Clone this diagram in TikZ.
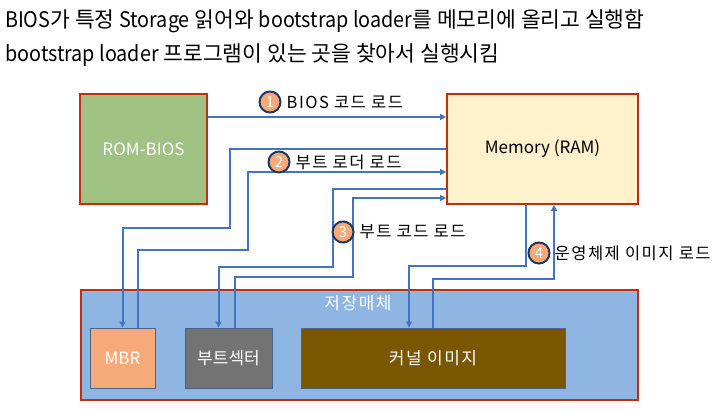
\documentclass[tikz,border=0pt]{standalone}
\usepackage{fontspec}
\setmainfont{Noto Sans CJK KR}
\newfontfamily\widefont[LetterSpace=9]{Noto Sans CJK KR}
\usetikzlibrary{positioning,arrows.meta}

\definecolor{boxred}{RGB}{196,46,14}
\definecolor{romgreen}{RGB}{160,194,130}
\definecolor{ramyellow}{RGB}{255,241,204}
\definecolor{diskblue}{RGB}{143,181,226}
\definecolor{mbrorange}{RGB}{246,170,122}
\definecolor{bootgray}{RGB}{115,115,115}
\definecolor{kernbrown}{RGB}{122,86,0}
\definecolor{flowblue}{RGB}{68,114,196}
\definecolor{badgenavy}{RGB}{32,56,100}
\definecolor{partedge}{RGB}{70,100,140}

% narrower latin words in the title
\newcommand{\latw}[1]{\scalebox{0.92}[1]{#1}}

\begin{document}
\begin{tikzpicture}[x=1pt, y=-1pt,
    font=\fontsize{16.5}{19}\selectfont,
    unit/.style={draw=boxred, line width=1.8pt, minimum height=110pt, align=center,
                 font=\fontsize{17}{20}\selectfont},
    part/.style={draw=partedge, line width=0.8pt, minimum height=60pt,
                 text=white, font=\fontsize{17}{20}\selectfont},
    load/.style={-{Triangle[length=6pt,width=6pt]}, draw=flowblue, line width=2pt},
    badge/.style={circle, draw=badgenavy, line width=2pt, fill=mbrorange,
                  minimum size=21pt, inner sep=0pt, text=white,
                  font=\fontsize{15}{17}\selectfont},
    lbl/.style={anchor=west, inner sep=0pt, font=\widefont\fontsize{16.5}{19}\selectfont},
    headline/.style={anchor=base west, inner sep=0pt, font=\fontsize{21.5}{24}\selectfont},
]
\useasboundingbox (0,0) rectangle (727,411);

% title lines
\node[headline] (line1) at (5,28) {\latw{BIOS}가 특정 \latw{Storage} 읽어와 \latw{bootstrap loader}를 메모리에 올리고 실행함};
\node[headline] (line2) at (5,62) {\latw{bootstrap loader} 프로그램이 있는 곳을 찾아서 실행시킴};

% top boxes
\node[unit, fill=romgreen, minimum width=127pt, text=white] (rom) at (143.5,149) {ROM-BIOS};
\node[unit, fill=ramyellow, minimum width=191pt] (mem) at (542.5,149) {Memory (RAM)};

% storage and its parts
\node[unit, fill=diskblue, minimum width=557pt] (disk) at (359.5,345) {};
\node[text=white, font=\widefont\fontsize{17}{20}\selectfont] (disklbl) at (358,303) {저장매체};
\node[part, fill=mbrorange, minimum width=65pt] (mbr) at (122.5,358) {MBR};
\node[part, fill=bootgray, minimum width=87pt] (boot) at (228.5,358) {부트섹터};
\node[part, fill=kernbrown, minimum width=264pt,
      font=\widefont\fontsize{17}{20}\selectfont] (kern) at (433,358) {커널 이미지};

% 1: BIOS code
\draw[load] (rom.east |- 0,117) -- (mem.west |- 0,117);

% 2: boot loader
\draw[load] (mem.west) -| (230,228) -| (mbr.north);
\draw[load] ([xshift=15pt]mbr.north) |- (248,250) |- (mem.west |- 0,172);

% 3: boot code
\draw[load] (mem.west |- 0,189) -| (333,267) -| ([xshift=-10pt]boot.north);
\draw[load] ([xshift=6pt]boot.north) |- (353,277) |- (mem.west |- 0,198);

% 4: OS image
\draw[load] ([xshift=-17pt]mem.south) |- (409,266) -| ([xshift=-24pt]kern.north);
\draw[load] (kern.north) |- (554,279) -- (mem.south -| 554,0);

% numbered badges
\node[badge] (n1) at (270,102) {1};
\node[lbl, right=5pt of n1] (t1) {BIOS 코드 로드};
\node[badge] (n2) at (279,162) {2};
\node[lbl, right=5pt of n2] (t2) {부트 로더 로드};
\node[badge] (n3) at (343,232) {3};
\node[lbl, right=5pt of n3] (t3) {부트 코드 로드};
\node[badge] (n4) at (539,253) {4};
\node[lbl, right=4pt of n4] (t4) {운영체제 이미지 로드};
\end{tikzpicture}
\end{document}
